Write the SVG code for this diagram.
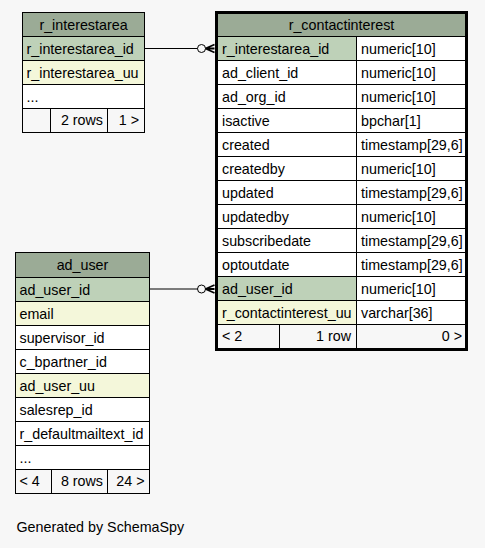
<svg xmlns="http://www.w3.org/2000/svg" width="485" height="548" viewBox="0 0 485 548">
<style>
text{font-family:"Liberation Sans",Arial,sans-serif;font-size:14.3px;fill:#000}
.c{text-anchor:middle}.e{text-anchor:end}
.hd{fill:#9bab96}.pk{fill:#bed1b8}.ix{fill:#f4f7da}.wh{fill:#ffffff}.ft{fill:#f7f7f7}
.ln{stroke:#000;stroke-width:1;fill:none}
.cn{stroke:#000;stroke-width:1;fill:none}
.crow{stroke:#000;stroke-width:1.8;fill:none}
</style>
<rect x="0" y="0" width="485" height="548" fill="#f7f7f7"/>

<g id="connectors">
<line class="cn" x1="145" y1="48.5" x2="197.5" y2="48.5"/>
<circle class="cn" cx="201.5" cy="48.5" r="4"/>
<path class="crow" d="M205.5,48.5 L214.5,44.5 M205.5,48.5 L214.5,48.5 M205.5,48.5 L214.5,52.5"/>
<line class="cn" x1="149.5" y1="289" x2="197.5" y2="289"/>
<circle class="cn" cx="201.5" cy="289" r="4"/>
<path class="crow" d="M205.5,289 L214.5,285 M205.5,289 L214.5,289 M205.5,289 L214.5,293"/>
</g>

<g id="r_interestarea">
<rect class="hd" x="22.5" y="12.5" width="122" height="24"/>
<rect class="pk" x="22.5" y="36.5" width="122" height="24"/>
<rect class="ix" x="22.5" y="60.5" width="122" height="24"/>
<rect class="wh" x="22.5" y="84.5" width="122" height="24"/>
<rect class="ft" x="22.5" y="108.5" width="122" height="24"/>
<rect class="ln" x="22.5" y="12.5" width="122" height="120"/>
<path class="ln" d="M22.5,36.5H144.5M22.5,60.5H144.5M22.5,84.5H144.5M22.5,108.5H144.5M50.5,108.5V132.5M107.5,108.5V132.5"/>
<text class="c" x="83.5" y="29.5">r_interestarea</text>
<text x="26.5" y="53.5">r_interestarea_id</text>
<text x="26.5" y="77.5">r_interestarea_uu</text>
<text x="26.5" y="101.5">...</text>
<text class="e" x="103" y="125">2 rows</text>
<text class="e" x="139" y="125">1 &gt;</text>
</g>

<g id="r_contactinterest">
<rect class="hd" x="216.5" y="12.5" width="250" height="24"/>
<rect class="pk" x="216.5" y="36.5" width="140" height="24"/>
<rect class="wh" x="356.5" y="36.5" width="110" height="24"/>
<rect class="wh" x="216.5" y="60.5" width="250" height="216"/>
<rect class="pk" x="216.5" y="276.5" width="140" height="24"/>
<rect class="wh" x="356.5" y="276.5" width="110" height="24"/>
<rect class="ix" x="216.5" y="300.5" width="140" height="24"/>
<rect class="wh" x="356.5" y="300.5" width="110" height="24"/>
<rect class="ft" x="216.5" y="324.5" width="250" height="24"/>
<path class="ln" d="M216.5,36.5H466.5M216.5,60.5H466.5M216.5,84.5H466.5M216.5,108.5H466.5M216.5,132.5H466.5M216.5,156.5H466.5M216.5,180.5H466.5M216.5,204.5H466.5M216.5,228.5H466.5M216.5,252.5H466.5M216.5,276.5H466.5M216.5,300.5H466.5M216.5,324.5H466.5M356.5,36.5V348.5M279.5,324.5V348.5"/>
<rect x="216.5" y="12.5" width="250" height="337" fill="none" stroke="#000" stroke-width="3"/>
<text class="c" x="341.5" y="29.5">r_contactinterest</text>
<text x="222" y="53.5">r_interestarea_id</text><text x="361" y="53.5">numeric[10]</text>
<text x="222" y="77.5">ad_client_id</text><text x="361" y="77.5">numeric[10]</text>
<text x="222" y="101.5">ad_org_id</text><text x="361" y="101.5">numeric[10]</text>
<text x="222" y="125.5">isactive</text><text x="361" y="125.5">bpchar[1]</text>
<text x="222" y="149.5">created</text><text x="361" y="149.5">timestamp[29,6]</text>
<text x="222" y="173.5">createdby</text><text x="361" y="173.5">numeric[10]</text>
<text x="222" y="197.5">updated</text><text x="361" y="197.5">timestamp[29,6]</text>
<text x="222" y="221.5">updatedby</text><text x="361" y="221.5">numeric[10]</text>
<text x="222" y="245.5">subscribedate</text><text x="361" y="245.5">timestamp[29,6]</text>
<text x="222" y="269.5">optoutdate</text><text x="361" y="269.5">timestamp[29,6]</text>
<text x="222" y="293.5">ad_user_id</text><text x="361" y="293.5">numeric[10]</text>
<text x="222" y="317.5">r_contactinterest_uu</text><text x="361" y="317.5">varchar[36]</text>
<text x="222" y="341">&lt; 2</text>
<text class="e" x="351" y="341">1 row</text>
<text class="e" x="462" y="341">0 &gt;</text>
</g>

<g id="ad_user">
<rect class="hd" x="15.5" y="252.5" width="134" height="25"/>
<rect class="pk" x="15.5" y="277.5" width="134" height="24"/>
<rect class="ix" x="15.5" y="301.5" width="134" height="24"/>
<rect class="wh" x="15.5" y="325.5" width="134" height="48"/>
<rect class="ix" x="15.5" y="373.5" width="134" height="24"/>
<rect class="wh" x="15.5" y="397.5" width="134" height="72"/>
<rect class="ft" x="15.5" y="469.5" width="134" height="24"/>
<rect class="ln" x="15.5" y="252.5" width="134" height="241"/>
<path class="ln" d="M15.5,277.5H149.5M15.5,301.5H149.5M15.5,325.5H149.5M15.5,349.5H149.5M15.5,373.5H149.5M15.5,397.5H149.5M15.5,421.5H149.5M15.5,445.5H149.5M15.5,469.5H149.5M51.5,469.5V493.5M107.5,469.5V493.5"/>
<text class="c" x="82.5" y="270">ad_user</text>
<text x="19.5" y="294.5">ad_user_id</text>
<text x="19.5" y="318.5">email</text>
<text x="19.5" y="342.5">supervisor_id</text>
<text x="19.5" y="366.5">c_bpartner_id</text>
<text x="19.5" y="390.5">ad_user_uu</text>
<text x="19.5" y="414.5">salesrep_id</text>
<text x="19.5" y="438.5">r_defaultmailtext_id</text>
<text x="19.5" y="462.5">...</text>
<text x="19.5" y="486">&lt; 4</text>
<text class="e" x="103" y="486">8 rows</text>
<text class="e" x="144.5" y="486">24 &gt;</text>
</g>

<text x="16.5" y="532">Generated by SchemaSpy</text>
</svg>
